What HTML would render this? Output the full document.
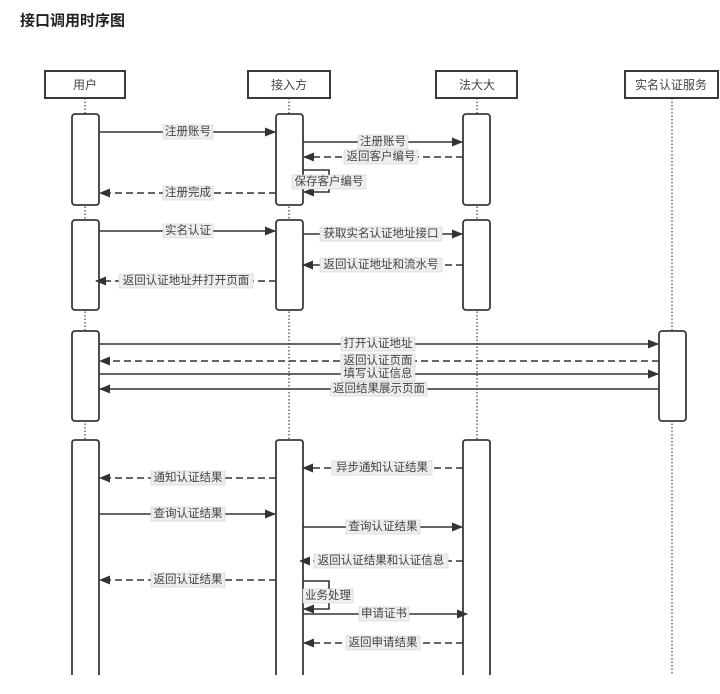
<!DOCTYPE html>
<html><head><meta charset="utf-8"><style>
html,body{margin:0;padding:0;background:#fff;width:720px;height:694px;overflow:hidden}
svg{display:block}
text{font-family:"Liberation Sans","Noto Sans CJK SC",sans-serif}
.t{font-size:11.5px;fill:#444;text-anchor:middle;dominant-baseline:central}
.h{font-size:12px;fill:#444;text-anchor:middle;dominant-baseline:central}
.lb{fill:#eeeeee;stroke:#d0d0d0;stroke-width:0.6}
.m{stroke:#333;stroke-width:1.6;fill:none}
.d{stroke-dasharray:7 4}
.bar{fill:#fff;stroke:#3a3a3a;stroke-width:1.8}
.ll{stroke:#666;stroke-width:1.5;stroke-dasharray:1.5 2}
</style></head><body>
<svg width="720" height="694" viewBox="0 0 720 694" xmlns="http://www.w3.org/2000/svg">
<defs>
<marker id="a" markerWidth="11" markerHeight="9" refX="10" refY="4.5" orient="auto" markerUnits="userSpaceOnUse">
<path d="M0,0 L11,4.5 L0,9 z" fill="#333"/></marker>
</defs>
<text x="20" y="21" style="font-size:15px;font-weight:bold;fill:#222;dominant-baseline:central">接口调用时序图</text>

<line class="ll" x1="85" y1="98" x2="85" y2="694"/>
<line class="ll" x1="289" y1="98" x2="289" y2="694"/>
<line class="ll" x1="477" y1="98" x2="477" y2="694"/>
<line class="ll" x1="672" y1="98" x2="672" y2="694"/>

<rect x="45" y="71" width="80" height="27" fill="#fff" stroke="#3a3a3a" stroke-width="2"/>
<text class="h" x="85" y="85">用户</text>
<rect x="248" y="71" width="82" height="27" fill="#fff" stroke="#3a3a3a" stroke-width="2"/>
<text class="h" x="289" y="85">接入方</text>
<rect x="436" y="71" width="81" height="27" fill="#fff" stroke="#3a3a3a" stroke-width="2"/>
<text class="h" x="477" y="85">法大大</text>
<rect x="625" y="71" width="93" height="27" fill="#fff" stroke="#3a3a3a" stroke-width="2"/>
<text class="h" x="671" y="85">实名认证服务</text>

<rect class="bar" x="72" y="114" width="27" height="91" rx="3"/>
<rect class="bar" x="276" y="114" width="27" height="91" rx="3"/>
<rect class="bar" x="463" y="114" width="27" height="91" rx="3"/>
<rect class="bar" x="72" y="220" width="27" height="90" rx="3"/>
<rect class="bar" x="276" y="220" width="27" height="90" rx="3"/>
<rect class="bar" x="463" y="220" width="27" height="90" rx="3"/>
<rect class="bar" x="72" y="331" width="27" height="90" rx="3"/>
<rect class="bar" x="659" y="331" width="27" height="90" rx="3"/>
<path class="bar" d="M72,694 V443 Q72,440 75,440 H96 Q99,440 99,443 V694"/>
<path class="bar" d="M276,694 V443 Q276,440 279,440 H300 Q303,440 303,443 V694"/>
<path class="bar" d="M463,694 V443 Q463,440 466,440 H487 Q490,440 490,443 V694"/>
<rect x="0" y="675" width="720" height="19" fill="#fff"/>

<line class="m" x1="100" y1="132" x2="275" y2="132" marker-end="url(#a)"/>
<rect class="lb" x="163" y="125" width="50" height="14"/><text class="t" x="188" y="132">注册账号</text>

<line class="m" x1="303" y1="142" x2="462" y2="142" marker-end="url(#a)"/>
<rect class="lb" x="358" y="135" width="50" height="14"/><text class="t" x="383" y="142">注册账号</text>

<line class="m d" x1="463" y1="157" x2="304" y2="157" marker-end="url(#a)"/>
<rect class="lb" x="344" y="150" width="74" height="14"/><text class="t" x="381" y="157">返回客户编号</text>

<path class="m" d="M303,170 H329 V192 H304" marker-end="url(#a)"/>
<rect class="lb" x="292" y="175" width="74" height="14"/><text class="t" x="329" y="182">保存客户编号</text>

<line class="m d" x1="276" y1="193" x2="100" y2="193" marker-end="url(#a)"/>
<rect class="lb" x="163" y="186" width="50" height="14"/><text class="t" x="188" y="193">注册完成</text>

<line class="m" x1="100" y1="231" x2="275" y2="231" marker-end="url(#a)"/>
<rect class="lb" x="163" y="224" width="50" height="14"/><text class="t" x="188" y="231">实名认证</text>

<line class="m" x1="303" y1="234" x2="462" y2="234" marker-end="url(#a)"/>
<rect class="lb" x="320" y="227" width="122" height="14"/><text class="t" x="381" y="234">获取实名认证地址接口</text>

<line class="m d" x1="463" y1="265" x2="303" y2="265" marker-end="url(#a)"/>
<rect class="lb" x="320" y="258" width="122" height="14"/><text class="t" x="381" y="265">返回认证地址和流水号</text>

<line class="m d" x1="276" y1="281" x2="96" y2="281" marker-end="url(#a)"/>
<rect class="lb" x="119" y="274" width="134" height="14"/><text class="t" x="186" y="281">返回认证地址并打开页面</text>

<line class="m" x1="100" y1="344" x2="658" y2="344" marker-end="url(#a)"/>
<rect class="lb" x="341" y="337" width="74" height="14"/><text class="t" x="378" y="344">打开认证地址</text>

<line class="m d" x1="659" y1="361" x2="100" y2="361" marker-end="url(#a)"/>
<rect class="lb" x="341" y="354" width="74" height="14"/><text class="t" x="378" y="361">返回认证页面</text>

<line class="m" x1="100" y1="374" x2="658" y2="374" marker-end="url(#a)"/>
<rect class="lb" x="341" y="367" width="74" height="14"/><text class="t" x="378" y="374">填写认证信息</text>

<line class="m" x1="659" y1="389" x2="100" y2="389" marker-end="url(#a)"/>
<rect class="lb" x="331" y="382" width="96" height="14"/><text class="t" x="379" y="389">返回结果展示页面</text>

<line class="m d" x1="463" y1="468" x2="303" y2="468" marker-end="url(#a)"/>
<rect class="lb" x="332" y="461" width="100" height="14"/><text class="t" x="382" y="468">异步通知认证结果</text>

<line class="m d" x1="276" y1="478" x2="100" y2="478" marker-end="url(#a)"/>
<rect class="lb" x="151" y="471" width="74" height="14"/><text class="t" x="188" y="478">通知认证结果</text>

<line class="m" x1="100" y1="514" x2="275" y2="514" marker-end="url(#a)"/>
<rect class="lb" x="151" y="507" width="74" height="14"/><text class="t" x="188" y="514">查询认证结果</text>

<line class="m" x1="303" y1="527" x2="462" y2="527" marker-end="url(#a)"/>
<rect class="lb" x="346" y="520" width="74" height="14"/><text class="t" x="383" y="527">查询认证结果</text>

<line class="m d" x1="463" y1="561" x2="300" y2="561" marker-end="url(#a)"/>
<rect class="lb" x="314" y="554" width="134" height="14"/><text class="t" x="381" y="561">返回认证结果和认证信息</text>

<line class="m d" x1="276" y1="580" x2="100" y2="580" marker-end="url(#a)"/>
<rect class="lb" x="151" y="573" width="74" height="14"/><text class="t" x="188" y="580">返回认证结果</text>

<path class="m" d="M303,581 H329 V609 H304" marker-end="url(#a)"/>
<rect class="lb" x="303" y="589" width="50" height="14"/><text class="t" x="328" y="596">业务处理</text>

<line class="m" x1="303" y1="614" x2="467" y2="614" marker-end="url(#a)"/>
<rect class="lb" x="359" y="607" width="50" height="14"/><text class="t" x="384" y="614">申请证书</text>

<line class="m d" x1="463" y1="643" x2="304" y2="643" marker-end="url(#a)"/>
<rect class="lb" x="346" y="636" width="74" height="14"/><text class="t" x="383" y="643">返回申请结果</text>
</svg>
</body></html>
